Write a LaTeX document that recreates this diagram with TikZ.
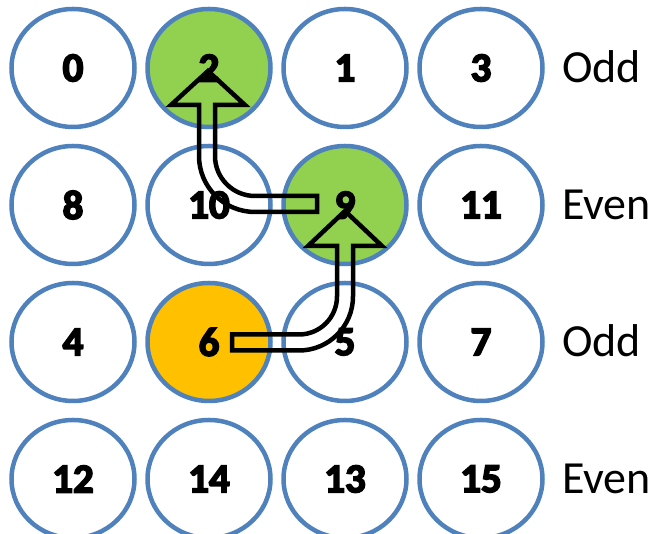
\documentclass[tikz,border=0pt]{standalone}
\usepackage{fontspec}
\setmainfont{Carlito}
\newfontfamily\numfont{Carlito}[BoldFeatures={FakeBold=4}]
\usetikzlibrary{shapes.geometric}
\definecolor{cblue}{HTML}{4F81BD}
\definecolor{cgreen}{HTML}{92D050}
\definecolor{corange}{HTML}{FFC000}
\begin{document}
\begin{tikzpicture}[x=1pt,y=1pt,
  cell/.style={ellipse, draw=cblue, line width=4.5pt, minimum width=123pt,
    minimum height=118pt, inner sep=0pt, fill=white,
    font=\numfont\bfseries\fontsize{41}{41}\selectfont},
  lbl/.style={anchor=base west, inner sep=0pt, font=\fontsize{46}{46}\selectfont},
  blk/.style={draw=black, line width=4.5pt, line join=miter}]
\useasboundingbox (0,0) rectangle (657,534);
\clip (0,0) rectangle (657,534);
% row 1
\node[cell] (n0) at (73,466) {0};
\node[cell, fill=cgreen] (n2) at (209,466) {2};
\node[cell] (n1) at (345,466) {1};
\node[cell] (n3) at (481,466) {3};
% row 2
\node[cell] (n8) at (73,329) {8};
\node[cell] (n10) at (209,329) {10};
\node[cell, fill=cgreen] (n9) at (345,329) {9};
\node[cell] (n11) at (481,329) {11};
% row 3
\node[cell] (n4) at (73,192) {4};
\node[cell, fill=corange] (n6) at (209,192) {6};
\node[cell] (n5) at (345,192) {5};
\node[cell] (n7) at (481,192) {7};
% row 4
\node[cell] (n12) at (73,55) {12};
\node[cell] (n14) at (209,55) {14};
\node[cell] (n13) at (345,55) {13};
\node[cell] (n15) at (481,55) {15};
% labels
\node[lbl] (l1) at (562,451) {Odd};
\node[lbl] (l2) at (562,314) {Even};
\node[lbl] (l3) at (562,177) {Odd};
\node[lbl] (l4) at (562,40) {Even};
% arrow 6 -> 9
\draw[blk] (232,199.5) -- (299,199.5) arc[start angle=-90, end angle=0, radius=38]
  -- (337,288) -- (308,288) -- (345,323) -- (382,288) -- (353,288) -- (353,237.5)
  arc[start angle=0, end angle=-90, radius=54] -- (232,183.5) -- cycle;
% arrow 9 -> 2
\draw[blk] (317,338) -- (255,338) arc[start angle=-90, end angle=-180, radius=40]
  -- (215,429) -- (245,429) -- (208,463) -- (171,429) -- (199,429) -- (199,378)
  arc[start angle=180, end angle=270, radius=56] -- (317,322) -- cycle;
\end{tikzpicture}
\end{document}
